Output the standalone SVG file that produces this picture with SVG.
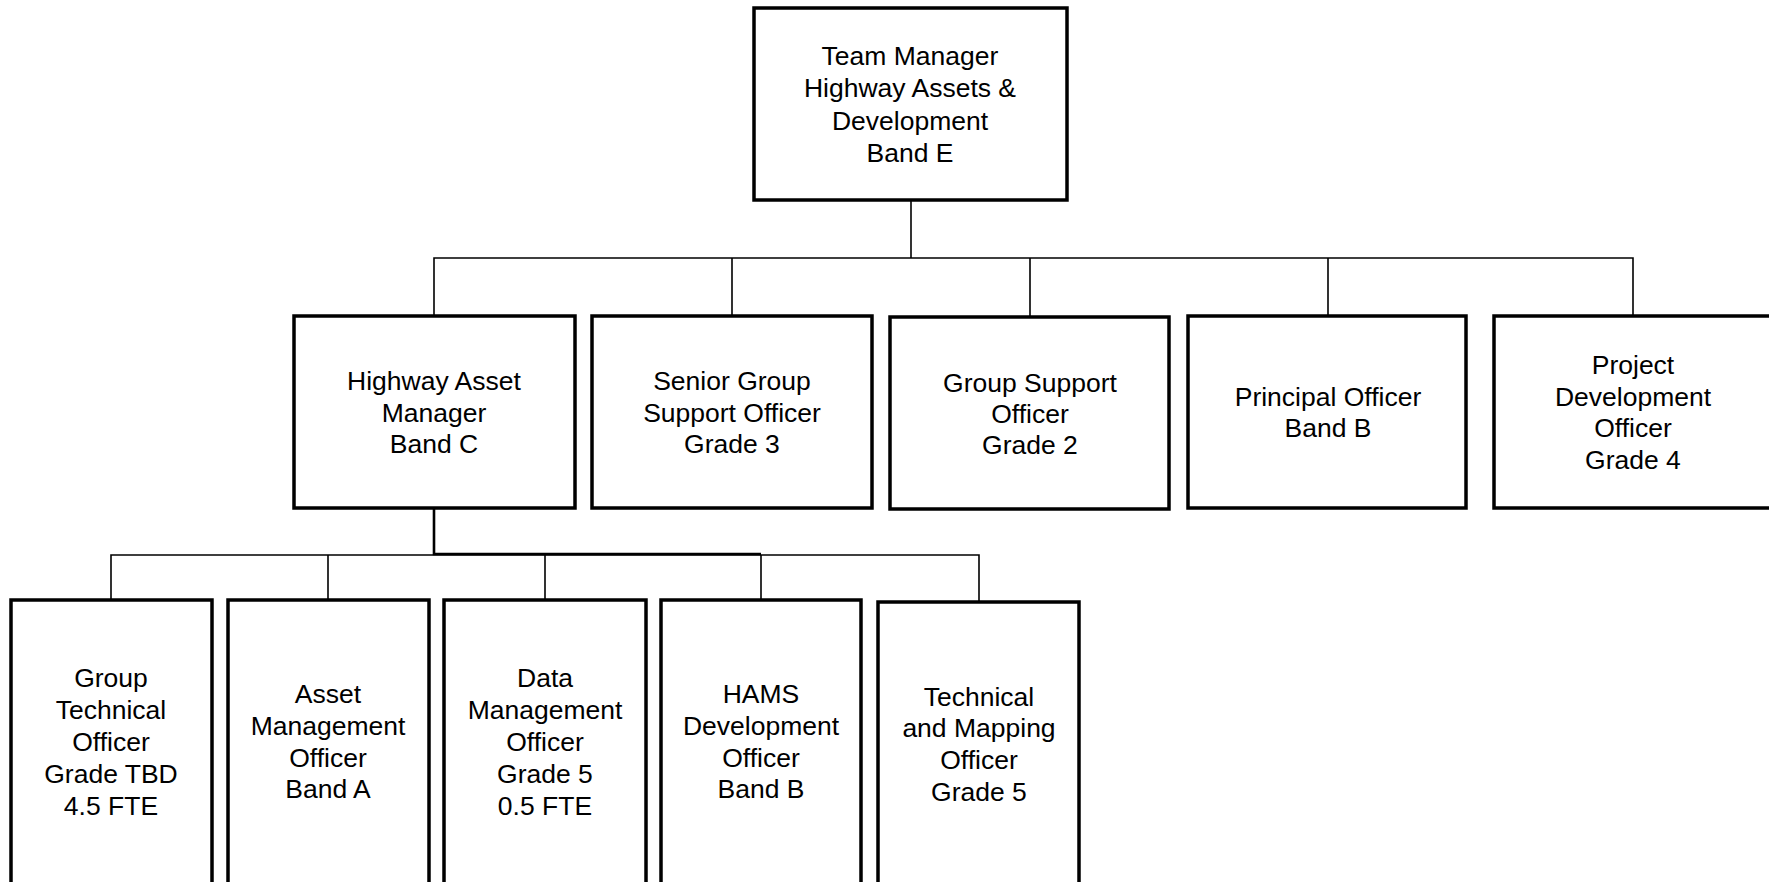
<svg xmlns="http://www.w3.org/2000/svg" width="1769" height="882" viewBox="0 0 1769 882">
<style>
.box{fill:#fff;stroke:#000;stroke-width:3.5}
.ln{fill:none;stroke:#000;stroke-width:1.6}
.lnb{fill:none;stroke:#000;stroke-width:2.6}
text{font-family:"Liberation Sans",Arial,sans-serif;font-size:26.5px;fill:#000;text-anchor:middle}
.s{font-size:26.5px}
</style>
<rect width="1769" height="882" fill="#fff"/>
<g id="connectors">
<path class="ln" d="M911,200V258"/>
<path class="ln" d="M434,316V258H1633V316"/>
<path class="ln" d="M732,258V316M1030,258V317M1328,258V316"/>
<path class="lnb" d="M434,508V554H761"/>
<path class="ln" d="M111,600V555H979V602"/>
<path class="ln" d="M328,555V600M545,555V600M761,555V600"/>
</g>
<g id="n-team-manager">
<rect class="box" x="754" y="8" width="313" height="192"/>
<text x="910" y="65">Team Manager</text>
<text x="910" y="97">Highway Assets &amp;</text>
<text x="910" y="130">Development</text>
<text x="910" y="162">Band E</text>
</g>
<g id="n-highway-asset-manager">
<rect class="box" x="294" y="316" width="281" height="192"/>
<text x="434" y="390">Highway Asset</text>
<text x="434" y="422">Manager</text>
<text x="434" y="453">Band C</text>
</g>
<g id="n-senior-group-support">
<rect class="box" x="592" y="316" width="280" height="192"/>
<text x="732" y="390">Senior Group</text>
<text x="732" y="422">Support Officer</text>
<text x="732" y="453">Grade 3</text>
</g>
<g id="n-group-support">
<rect class="box" x="890" y="317" width="279" height="192"/>
<text x="1030" y="392">Group Support</text>
<text x="1030" y="423">Officer</text>
<text x="1030" y="454">Grade 2</text>
</g>
<g id="n-principal-officer">
<rect class="box" x="1188" y="316" width="278" height="192"/>
<text x="1328" y="406">Principal Officer</text>
<text x="1328" y="437">Band B</text>
</g>
<g id="n-project-development">
<rect class="box" x="1494" y="316" width="290" height="192"/>
<text x="1633" y="374">Project</text>
<text x="1633" y="406">Development</text>
<text x="1633" y="437">Officer</text>
<text x="1633" y="469">Grade 4</text>
</g>
<g id="n-group-technical">
<rect class="box" x="11" y="600" width="201" height="300"/>
<text class="s" x="111" y="687">Group</text>
<text class="s" x="111" y="719">Technical</text>
<text class="s" x="111" y="751">Officer</text>
<text class="s" x="111" y="783">Grade TBD</text>
<text class="s" x="111" y="815">4.5 FTE</text>
</g>
<g id="n-asset-management">
<rect class="box" x="228" y="600" width="201" height="300"/>
<text class="s" x="328" y="703">Asset</text>
<text class="s" x="328" y="735">Management</text>
<text class="s" x="328" y="767">Officer</text>
<text class="s" x="328" y="798">Band A</text>
</g>
<g id="n-data-management">
<rect class="box" x="444" y="600" width="202" height="300"/>
<text class="s" x="545" y="687">Data</text>
<text class="s" x="545" y="719">Management</text>
<text class="s" x="545" y="751">Officer</text>
<text class="s" x="545" y="783">Grade 5</text>
<text class="s" x="545" y="815">0.5 FTE</text>
</g>
<g id="n-hams-development">
<rect class="box" x="661" y="600" width="200" height="300"/>
<text class="s" x="761" y="703">HAMS</text>
<text class="s" x="761" y="735">Development</text>
<text class="s" x="761" y="767">Officer</text>
<text class="s" x="761" y="798">Band B</text>
</g>
<g id="n-technical-mapping">
<rect class="box" x="878" y="602" width="201" height="300"/>
<text class="s" x="979" y="706">Technical</text>
<text class="s" x="979" y="737">and Mapping</text>
<text class="s" x="979" y="769">Officer</text>
<text class="s" x="979" y="801">Grade 5</text>
</g>
</svg>
